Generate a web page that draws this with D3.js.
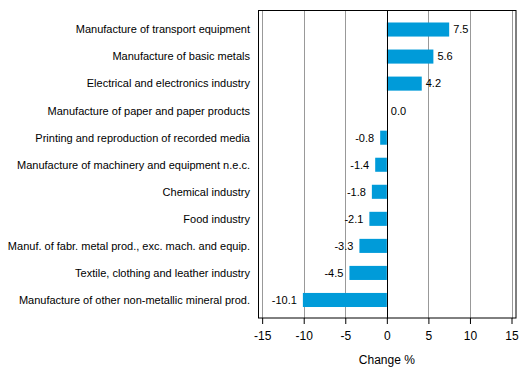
<!DOCTYPE html>
<html><head><meta charset="utf-8">
<script src="https://cdn.jsdelivr.net/npm/d3@7"></script>
<style>body{margin:0;background:#fff}svg{display:block}text{font-family:"Liberation Sans",Arial,sans-serif;font-size:11px;fill:#000}</style>
</head><body><svg id="c" width="529" height="378"></svg>
<script>
const categories = ["Manufacture of transport equipment","Manufacture of basic metals","Electrical and electronics industry","Manufacture of paper and paper products","Printing and reproduction of recorded media","Manufacture of machinery and equipment n.e.c.","Chemical industry","Food industry","Manuf. of fabr. metal prod., exc. mach. and equip.","Textile, clothing and leather industry","Manufacture of other non-metallic mineral prod."];
const values = [7.5,5.6,4.2,0.0,-0.8,-1.4,-1.8,-2.1,-3.3,-4.5,-10.1];
const tickValues = [-15,-10,-5,0,5,10,15];
const axisTitle = "Change %";

const svg = d3.select("#c");
const L = 258, R = 516.5, T = 10, B = 318.5;
const x = d3.scaleLinear().domain([-15.5,15.6]).range([L,R]);
const y = d3.scaleBand().domain(categories).range([16,313.5]).paddingInner(0.48).paddingOuter(0.24);

// gridlines
svg.append("g").selectAll("line").data(tickValues.filter(d=>d!==0)).join("line")
  .attr("x1",d=>Math.round(x(d))+0.5).attr("x2",d=>Math.round(x(d))+0.5)
  .attr("y1",T).attr("y2",B).attr("stroke","#999").attr("stroke-width",1);

// bars
svg.append("g").selectAll("rect").data(values).join("rect")
  .attr("x",d=>x(Math.min(0,d))).attr("width",d=>Math.abs(x(d)-x(0)))
  .attr("y",(d,i)=>y(categories[i])).attr("height",y.bandwidth())
  .attr("fill","#009bd9");

// zero line
svg.append("line").attr("x1",Math.round(x(0))+0.5).attr("x2",Math.round(x(0))+0.5)
  .attr("y1",T).attr("y2",B).attr("stroke","#000");

// frame
svg.append("rect").attr("x",L+0.5).attr("y",T+0.5).attr("width",R-L-1).attr("height",B-T-1)
  .attr("fill","none").attr("stroke","#000");

// value labels
svg.append("g").selectAll("text").data(values).join("text")
  .attr("x",d=>d>=0? x(d)+4 : x(d)-6)
  .attr("y",(d,i)=>y(categories[i])+y.bandwidth()/2)
  .attr("dy","0.35em").attr("text-anchor",d=>d>=0?"start":"end")
  .text(d=>d.toFixed(1));

// category labels
svg.append("g").selectAll("text").data(categories).join("text")
  .attr("x",250).attr("y",d=>y(d)+y.bandwidth()/2).attr("dy","0.35em")
  .attr("text-anchor","end").text(d=>d);

// x axis
const ax = svg.append("g").attr("transform",`translate(0,${B-0.5})`)
  .call(d3.axisBottom(x).tickValues(tickValues).tickSize(6).tickPadding(7).tickFormat(d=>String(d)));
ax.select(".domain").remove();
ax.selectAll("line").attr("stroke","#000");
ax.selectAll("text").style("font-size","12px").attr("fill","#000").style("font-family","'Liberation Sans',Arial,sans-serif");

svg.append("text").attr("x",x(0)).attr("y",363.5).attr("text-anchor","middle").style("font-size","12px").text(axisTitle);
</script></body></html>
